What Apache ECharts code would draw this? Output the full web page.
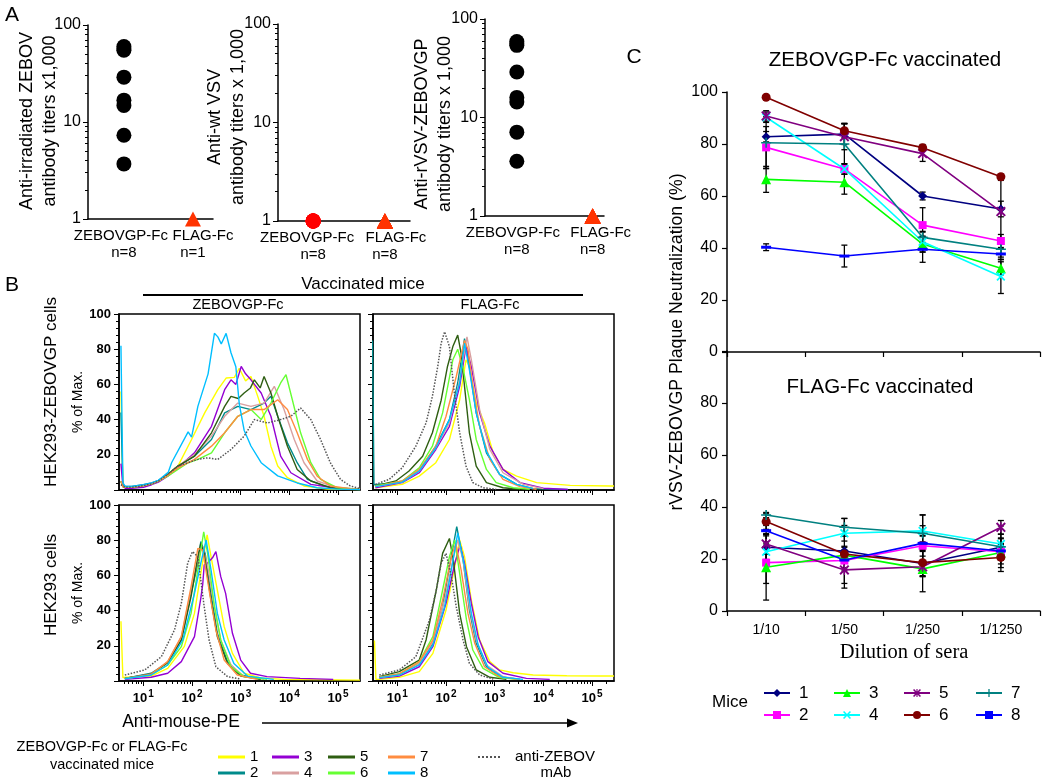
<!DOCTYPE html>
<html><head><meta charset="utf-8">
<script src="https://cdn.jsdelivr.net/npm/echarts@6/dist/echarts.min.js"></script>
<style>html,body{margin:0;padding:0;background:#fff}#c{width:1050px;height:784px}</style>
</head><body><div id="c"></div>
<script>
const FONT = 'Liberation Sans, Arial, sans-serif';
const SERIF = 'Liberation Serif, Times New Roman, serif';

// ---------------- Panel A data ----------------
const groupNames = ['ZEBOVGP-Fc', 'FLAG-Fc'];
const nZebov = ['n=8', 'n=1'];
const nVsv = ['n=8', 'n=8'];
const nRvsv = ['n=8', 'n=8'];
const zebovTitersZ = [60, 57, 55, 29, 16.8, 14.8, 7.3, 3.7];
const zebovTitersF = [1];
const vsvTitersZ = [1, 1, 1, 1, 1, 1, 1, 1];
const vsvTitersF = [1, 1, 1, 1, 1, 1, 1, 1];
const rvsvTitersZ = [59, 56, 54, 29, 16, 14.4, 7.1, 3.6];
const rvsvTitersF = [1, 1, 1, 1, 1, 1, 1, 1];
const logMinorTicksA = [2, 3, 4, 5, 6, 7, 8, 9, 20, 30, 40, 50, 60, 70, 80, 90];

// ---------------- Panel B data (x = log10 fluorescence, y = % of max) ----------------
const decadeExponents = [1, 2, 3, 4, 5];
const histNames = ['1', '2', '3', '4', '5', '6', '7', '8', 'anti-ZEBOV mAb'];
const histTL = [
 [[0.54,56],[0.58,3],[0.63,1.5],[0.76,1.5],[1.0,2.5],[1.17,3.5],[1.31,5],[1.51,9],[1.71,13.6],[1.99,28.7],[2.26,43.8],[2.53,57],[2.7,63.6],[2.87,64],[2.97,69.2],[3.1,62],[3.21,64.5],[3.35,53.2],[3.48,41.9],[3.62,24.9],[3.76,13.6],[3.96,7],[4.3,2.3],[4.78,0.5],[5.45,0.3]],
 [[0.54,44],[0.58,3],[0.63,2],[0.76,2],[1.0,3],[1.17,4],[1.31,5.5],[1.51,9],[1.71,13.6],[2.05,19.2],[2.4,28.7],[2.67,43.8],[2.94,47.5],[3.21,45.7],[3.48,49.4],[3.62,53.2],[3.76,41.9],[3.96,26.8],[4.16,15.5],[4.37,6],[4.71,2.3],[5.12,0.8],[5.45,0.3]],
 [[0.54,15],[0.58,2],[0.63,1],[0.76,1],[1.0,1.5],[1.17,3],[1.31,4.5],[1.51,8],[1.71,12.6],[2.05,21.1],[2.4,36.2],[2.67,57],[2.8,62.6],[2.9,60],[3.01,70.2],[3.1,66],[3.21,62.6],[3.42,55.1],[3.62,41.9],[3.82,19.2],[4.03,9.8],[4.44,3.2],[4.98,1],[5.45,0.5]],
 [[0.54,5],[0.58,2],[0.63,1.5],[0.76,1.5],[1.0,2.5],[1.17,3.5],[1.31,5],[1.51,9],[1.71,13.6],[2.05,20.2],[2.4,30.6],[2.67,41.9],[2.94,49.4],[3.21,47.5],[3.48,49.4],[3.69,58.9],[3.89,45.7],[4.1,28.7],[4.3,15.5],[4.57,5.1],[4.98,1.3],[5.45,0.4]],
 [[0.54,5],[0.58,2],[0.63,1.5],[0.76,1.5],[1.0,2.5],[1.17,3.5],[1.31,5],[1.51,9],[1.71,13.6],[2.05,19.2],[2.4,32.5],[2.67,47.5],[2.8,53.2],[2.95,52],[3.07,55.1],[3.2,58],[3.28,62.6],[3.4,58],[3.48,64.5],[3.62,55.1],[3.76,41.9],[3.96,24.9],[4.16,11.7],[4.44,5.1],[4.84,1.3],[5.45,0.3]],
 [[0.54,5],[0.58,2],[0.63,1.5],[0.76,1.5],[1.0,2.5],[1.17,3.5],[1.31,5],[1.51,8],[1.71,11.7],[1.92,15.5],[2.12,17.4],[2.4,21.1],[2.67,32.5],[2.94,41.9],[3.21,45.7],[3.42,40],[3.62,49.4],[3.82,60.8],[3.93,65.5],[4.06,51.3],[4.23,32.5],[4.44,15.5],[4.64,6],[4.98,1.3],[5.45,0.4]],
 [[0.54,5],[0.58,2],[0.63,1.5],[0.76,1.5],[1.0,2.5],[1.17,3.5],[1.31,5],[1.51,8.5],[1.71,12.6],[2.05,17.4],[2.4,24.9],[2.67,32.5],[2.94,41.9],[3.21,45.7],[3.48,45.7],[3.76,51.3],[3.96,45.7],[4.16,32.5],[4.37,17.4],[4.57,7.9],[4.84,2.3],[5.25,0.8],[5.45,0.4]],
 [[0.54,82],[0.58,4],[0.63,2],[0.76,2],[1.0,3],[1.17,4],[1.31,5.5],[1.51,10],[1.58,15.5],[1.92,33],[1.99,30],[2.12,47.5],[2.33,66],[2.46,89],[2.53,87],[2.6,83],[2.7,89],[2.8,78],[2.9,70],[2.97,49],[3.07,34],[3.21,25],[3.42,15.5],[3.76,8],[4.16,4],[4.57,1.3],[4.98,0.5],[5.45,0.3]],
 [[0.54,3],[0.63,1.5],[0.76,1.5],[1.0,2.5],[1.17,3.5],[1.31,5],[1.51,9],[1.71,13.6],[2.12,17.4],[2.33,18.3],[2.53,17.4],[2.8,23],[3.07,30.6],[3.28,40],[3.55,38.1],[3.82,40],[4.03,41.9],[4.23,46.6],[4.44,40],[4.64,28.7],[4.84,15.5],[5.05,6],[5.25,2.3],[5.45,0.8]]
];
const histTR = [
 [[0.55,1.3],[1.1,3.2],[1.45,7.9],[1.79,15.5],[2.07,28.7],[2.28,51.3],[2.41,74],[2.48,70.2],[2.62,49.4],[2.79,38.1],[2.97,21.1],[3.17,11.7],[3.45,7.9],[3.86,4.2],[4.55,2.6],[5.38,2.3],[5.45,2.3]],
 [[0.49,85],[0.52,3],[0.55,1.9],[1.1,4.5],[1.45,10.8],[1.79,24.9],[2.07,40],[2.24,60.8],[2.38,86],[2.48,70.2],[2.62,43.8],[2.83,21.1],[3.1,8.9],[3.45,3.2],[3.79,0.8],[4.5,0.3]],
 [[0.55,1.3],[1.1,4.2],[1.45,9.8],[1.79,23],[2.07,36.2],[2.28,58.9],[2.41,81.5],[2.52,70.2],[2.69,43.8],[2.9,24.9],[3.17,11.7],[3.52,4.2],[4.0,1],[4.5,0.3]],
 [[0.55,1.9],[1.1,4.5],[1.45,10.8],[1.79,24],[2.07,38.1],[2.28,62.6],[2.43,87],[2.52,74],[2.69,45.7],[2.9,23],[3.17,9.8],[3.59,3.2],[4.0,0.8]],
 [[0.55,2.3],[0.97,5.1],[1.24,10.8],[1.52,19.2],[1.72,32.5],[1.9,51],[2.03,70.2],[2.14,81.5],[2.24,88],[2.31,77.7],[2.38,58.9],[2.48,32.5],[2.62,13.6],[2.83,4.2],[3.17,1.3],[3.52,0.4]],
 [[0.55,2.3],[1.1,5.1],[1.45,12.6],[1.72,24.9],[1.93,43.8],[2.14,74],[2.24,80],[2.34,70.2],[2.48,51.3],[2.62,28.7],[2.83,11.7],[3.03,4.2],[3.38,1.3],[3.72,0.4]],
 [[0.55,1.9],[1.1,5.1],[1.45,11.7],[1.79,24.9],[2.0,41.9],[2.21,64.5],[2.38,85],[2.45,80],[2.55,58.9],[2.69,36.2],[2.9,17.4],[3.17,6],[3.52,1.9],[3.86,0.4]],
 [[0.55,1.9],[1.1,4.5],[1.45,10.8],[1.79,24],[2.07,40],[2.28,60.8],[2.38,83.4],[2.48,68.3],[2.62,43.8],[2.83,22],[3.1,8.9],[3.45,3.2],[3.79,0.8]],
 [[0.55,3.2],[0.83,6],[1.1,12.6],[1.38,24.9],[1.59,38.1],[1.72,53.2],[1.83,70.2],[1.9,83.4],[1.97,89.9],[2.01,91],[2.07,81.5],[2.17,55.1],[2.28,32.5],[2.41,13.6],[2.55,4.2],[2.76,1.3],[3.03,0.4]]
];
const histBL = [
 [[0.54,34],[0.58,2],[0.62,1.3],[1.16,2.8],[1.5,7.2],[1.84,19.5],[2.05,38.4],[2.18,61.2],[2.31,83],[2.39,70.6],[2.52,51.7],[2.66,31],[2.83,15.7],[3.07,4.4],[3.41,1.7],[3.88,0.9],[5.45,0.5]],
 [[0.62,1.5],[1.16,4.4],[1.5,10.4],[1.78,23.3],[1.95,46],[2.12,66.9],[2.18,79.2],[2.27,72.5],[2.39,49.8],[2.52,27.1],[2.73,11],[3.0,3.4],[3.41,1.1]],
 [[0.62,0.9],[1.16,2.1],[1.5,4.4],[1.78,11],[2.05,25.2],[2.18,47],[2.22,55],[2.25,66],[2.32,67],[2.42,70],[2.49,73.5],[2.59,59.3],[2.69,49.8],[2.83,27.1],[3.0,11.9],[3.2,4.4],[3.54,2.5],[4.22,1.5],[4.9,0.9]],
 [[0.62,1.5],[1.16,4],[1.5,11],[1.78,25.2],[1.98,51.7],[2.15,72.5],[2.22,76.3],[2.32,65],[2.46,42.2],[2.59,23.3],[2.8,9.1],[3.07,2.5],[3.48,0.9]],
 [[0.62,1.5],[1.16,4],[1.5,10.4],[1.78,23.3],[1.98,47.9],[2.12,70.6],[2.18,78.2],[2.25,72.5],[2.39,46],[2.52,25.2],[2.73,10],[3.0,2.8],[3.41,0.9]],
 [[0.62,1.5],[1.16,3.4],[1.5,9.1],[1.78,19.5],[1.98,38.4],[2.12,63.1],[2.24,84.8],[2.32,72.5],[2.46,42.2],[2.59,23.3],[2.8,8.1],[3.07,2.5],[3.54,0.9]],
 [[0.62,1.3],[1.16,3.8],[1.5,11],[1.78,25.2],[1.98,53.6],[2.12,75.4],[2.22,74.4],[2.35,51.7],[2.49,29],[2.66,11.9],[2.93,3.4],[3.34,0.9]],
 [[0.62,1.3],[1.16,3.4],[1.5,9.1],[1.81,23.3],[2.05,49.8],[2.18,66.9],[2.29,80.1],[2.39,63.1],[2.52,38.4],[2.66,23.3],[2.86,10],[3.14,2.8],[3.68,0.9]],
 [[0.62,3.4],[1.03,6.3],[1.37,13.8],[1.64,29],[1.78,44.1],[1.91,66.9],[2.01,73.5],[2.12,70.6],[2.18,57.4],[2.25,42.2],[2.35,23.3],[2.49,8.1],[2.73,2.5],[3.0,1.1]]
];
const histBR = [
 [[0.53,23],[0.56,1],[0.63,0.9],[1.04,2.1],[1.45,5.3],[1.73,15.7],[2.0,40.3],[2.18,65],[2.28,80.1],[2.38,70.6],[2.52,46],[2.69,23.3],[2.9,11],[3.1,6.3],[3.38,4.7],[3.79,3.4],[4.48,3],[5.17,2.8],[5.45,2.8]],
 [[0.63,2.1],[1.04,3.8],[1.45,10],[1.73,21.4],[1.93,42.2],[2.07,65],[2.22,87.7],[2.35,68.8],[2.48,40.3],[2.62,21.4],[2.83,8.1],[3.1,2.5],[3.52,0.9]],
 [[0.63,1.5],[1.04,2.8],[1.45,8.1],[1.73,19.5],[2.0,44.1],[2.18,66.9],[2.29,77.2],[2.38,66.9],[2.52,44.1],[2.66,25.2],[2.86,11],[3.17,4.4],[3.65,1.5],[4.13,0.9]],
 [[0.63,1.9],[1.04,3.4],[1.45,10],[1.73,22.3],[1.97,46],[2.14,68.8],[2.24,80.1],[2.35,68.8],[2.48,42.2],[2.62,23.3],[2.83,9.1],[3.17,2.5],[3.52,0.9]],
 [[0.63,2.5],[1.04,5.3],[1.45,11.9],[1.59,23.3],[1.8,51.7],[1.93,72.5],[2.07,81],[2.15,68.8],[2.28,38.4],[2.42,19.5],[2.62,6.3],[2.9,2.1],[3.24,0.9]],
 [[0.63,2.1],[1.04,4],[1.45,11],[1.73,25.2],[1.93,51.7],[2.07,70.6],[2.18,80.1],[2.28,61.2],[2.42,34.7],[2.55,17.6],[2.76,7.2],[3.1,1.9],[3.45,0.9]],
 [[0.63,2.1],[1.04,4],[1.45,11],[1.73,23.3],[1.93,46],[2.11,70.6],[2.2,78.2],[2.31,63.1],[2.45,38.4],[2.59,21.4],[2.79,8.1],[3.1,2.5],[3.45,0.9]],
 [[0.63,1.9],[1.04,3.4],[1.45,9.1],[1.73,20.4],[1.97,42.2],[2.11,63.1],[2.24,84],[2.38,65],[2.52,38.4],[2.66,20.4],[2.86,7.8],[3.17,2.1],[3.58,0.9]],
 [[0.63,3.4],[1.04,6.3],[1.38,13.8],[1.66,34.7],[1.8,51.7],[1.9,66.9],[2.0,72.5],[2.11,59.3],[2.21,42.2],[2.35,23.3],[2.48,10],[2.69,3.4],[2.97,1.1]]
];

// ---------------- Panel C data ----------------
const dilutions = ['1/10', '1/50', '1/250', '1/1250'];
const miceNames = ['Mouse 1','Mouse 2','Mouse 3','Mouse 4','Mouse 5','Mouse 6','Mouse 7','Mouse 8'];
const zebNeut = [
 [82.8, 83.8, 60.0, 55.0],
 [78.7, 70.4, 48.8, 42.7],
 [66.4, 65.3, 41.5, 32.2],
 [90.3, 70.4, 42.4, 29.0],
 [90.8, 82.8, 76.3, 54.0],
 [98.0, 85.1, 78.6, 67.4],
 [80.5, 80.0, 44.1, 39.5],
 [40.3, 36.9, 39.5, 37.7]
];
const zebErr = [
 [2, 4, 1.5, 3],
 [8, 2, 6.7, 2.5],
 [5, 4.6, 3, 2.5],
 [2, 2, 4, 6.5],
 [2, 5, 3, 12],
 [0.5, 2.7, 1.2, 1],
 [10, 8, 2, 3],
 [1.3, 4.2, 5, 2]
];
const flagNeut = [
 [24.5, 23.1, 18.3, 24.5],
 [18.6, 19.4, 25.1, 22.8],
 [16.8, 21.5, 16.2, 22.5],
 [22.8, 29.9, 30.8, 25.8],
 [25.8, 15.8, 17.0, 32.2],
 [34.4, 21.9, 18.6, 20.6],
 [36.9, 32.2, 29.9, 24.7],
 [30.9, 19.6, 26.0, 23.1]
];
const flagErr = [
 [5, 12.5, 5, 5],
 [8, 4, 4, 3],
 [12.6, 3, 3, 3],
 [3, 3, 2, 2],
 [4, 7, 9.6, 2.6],
 [3, 3, 5, 5.4],
 [1, 3.4, 7, 8],
 [2, 3, 11, 5]
];

// ---------------- styles ----------------
const histColors = ['#ffff00','#008b8b','#9400d3','#d9a0a0','#2e5e12','#66ff33','#ff8c40','#00bfff','#555555'];
const miceColors = ['#000080','#ff00ff','#00ff00','#00ffff','#800080','#800000','#008080','#0000ff'];
const SYM_X = 'path://M0,1.4L1.4,0L5,3.6L8.6,0L10,1.4L6.4,5L10,8.6L8.6,10L5,6.4L1.4,10L0,8.6L3.6,5Z';
const SYM_STAR = 'path://M0,1.4L1.4,0L5,3.6L8.6,0L10,1.4L6.4,5L10,8.6L8.6,10L5,6.4L1.4,10L0,8.6L3.6,5Z M4.3,0L5.7,0L5.7,10L4.3,10Z';
const SYM_PLUS = 'path://M4.2,0H5.8V4.2H10V5.8H5.8V10H4.2V5.8H0V4.2H4.2Z';
const SYM_DASH = 'path://M0,0H10V3H0Z';
const ICON_LINE = 'path://M0,0H27V3H0Z';
const ICON_DOTS = 'path://M0,0H2V2H0Z M4,0H6V2H4Z M8,0H10V2H8Z M12,0H14V2H12Z M16,0H18V2H16Z M20,0H22V2H20Z';
const miceSymbols = ['diamond','rect','triangle',SYM_X,SYM_STAR,'circle',SYM_PLUS,SYM_DASH];
const miceSymbolSizes = [9, 8, 10, 9, 10, 9, 10, [10, 3]];

const BLACK = '#000';
const grid = [], xAxis = [], yAxis = [], series = [], legend = [], graphic = [];
function addGrid(g) { grid.push(Object.assign({outerBoundsMode: 'none', containLabel: false}, g)); return grid.length - 1; }
function addX(a) { xAxis.push(a); return xAxis.length - 1; }
function addY(a) { yAxis.push(a); return yAxis.length - 1; }

// ---------- Panel A ----------  (group position 1 = ZEBOVGP-Fc, 2 = FLAG-Fc)
// shift: horizontal nudge (px) of the group-name line, as printed in the original figure
function groupLabelAxis(gi, xmin, xmax, nLabels, pos, withLine, shift) {
  const pad = shift >= 0 ? [0, 0, 0, 2 * shift] : [0, -2 * shift, 0, 0];
  return addX({type:'value', gridIndex:gi, min:xmin, max:xmax, position:'bottom',
    axisLine:{show:withLine, onZero:false, lineStyle:{color:BLACK, width:1.5}}, axisTick:{show:false}, splitLine:{show:false},
    axisLabel:{customValues:[pos], showMinLabel:true, showMaxLabel:true, margin:8,
      formatter: v => '{g|' + groupNames[Math.round(v) - 1] + '}\n{n|' + nLabels[Math.round(v) - 1] + '}',
      rich:{g:{fontSize:15, lineHeight:17, color:BLACK, fontFamily:FONT, padding:pad}, n:{fontSize:15, lineHeight:17, color:BLACK, fontFamily:FONT}}}});
}
function panelA(box, xmin, xmax, nLabels, zVals, fVals, zColor, shifts) {
  const gi = addGrid(box);
  const xi = groupLabelAxis(gi, xmin, xmax, nLabels, 1, true, shifts[0]);
  groupLabelAxis(gi, xmin, xmax, nLabels, 2, false, shifts[1]);
  const yi = addY({type:'log', logBase:10, gridIndex:gi, min:1, max:100, position:'left',
    axisLine:{show:true, onZero:false, lineStyle:{color:BLACK, width:1.5}}, axisTick:{show:true, length:5, lineStyle:{color:BLACK}},
    splitLine:{show:false}, minorTick:{show:false}, axisLabel:{fontSize:16, color:BLACK, margin:7}});
  addY({type:'log', logBase:10, gridIndex:gi, min:1, max:100, position:'left', axisLine:{show:false, onZero:false},
    axisLabel:{show:false}, splitLine:{show:false}, axisTick:{show:true, length:3, customValues: logMinorTicksA, lineStyle:{color:BLACK}}});
  series.push({type:'scatter', xAxisIndex:xi, yAxisIndex:yi, data: zVals.map(v => [1, v]), symbol:'circle', symbolSize:15, itemStyle:{color:zColor, opacity:1}, clip:false, silent:true});
  series.push({type:'scatter', xAxisIndex:xi, yAxisIndex:yi, data: fVals.map(v => [2, v]), symbol:'triangle', symbolSize:[16,15], itemStyle:{color:'#ff3300', opacity:1}, clip:false, silent:true});
}
panelA({left:88, top:25, width:125, height:194}, 0.48, 2.29, nZebov, zebovTitersZ, zebovTitersF, BLACK, [-3, 10]);
panelA({left:278, top:24, width:132, height:197}, 0.51, 2.35, nVsv, vsvTitersZ, vsvTitersF, '#ff0000', [-6, 11]);
panelA({left:485, top:19, width:119, height:197}, 0.58, 2.15, nRvsv, rvsvTitersZ, rvsvTitersF, BLACK, [-4, 8]);

// ---------- Panel B ----------
const flowMinorTicks = [];
for (let d = 0; d <= 5; d++) for (let k = 2; k <= 9; k++) { const e = d + Math.log10(k); if (e > 0.5 && e < 5.45) flowMinorTicks.push(e); }
const bBoxes = [
  {left:119, top:314, width:241, height:176},
  {left:373, top:314, width:241, height:176},
  {left:119, top:505, width:241, height:176},
  {left:373, top:505, width:241, height:176}
];
const histPanels = [histTL, histTR, histBL, histBR];
bBoxes.forEach((box, p) => {
  const gi = addGrid(Object.assign({show:true, borderColor:BLACK, borderWidth:1.5, backgroundColor:'transparent'}, box));
  const isBottom = p >= 2, isLeft = p % 2 === 0;
  const xi = addX({type:'value', gridIndex:gi, min:0.5, max:5.45, position:'bottom',
    axisLine:{show:true, onZero:false, lineStyle:{color:BLACK, width:1.5}}, splitLine:{show:false},
    axisTick:{show:true, customValues: decadeExponents, length:5, lineStyle:{color:BLACK, width:1}},
    axisLabel: isBottom ? {show:true, customValues: decadeExponents, margin:8,
      formatter: v => '{b|10}{s|' + Math.round(v) + '}',
      rich:{b:{fontSize:13, fontWeight:'bold', color:BLACK, fontFamily:FONT}, s:{fontSize:10, fontWeight:'bold', color:BLACK, fontFamily:FONT, padding:[0,0,9,1]}}} : {show:false}});
  addX({type:'value', gridIndex:gi, min:0.5, max:5.45, position:'bottom', axisLine:{show:false, onZero:false},
    axisLabel:{show:false}, splitLine:{show:false}, axisTick:{show:true, customValues: flowMinorTicks, length:3, lineStyle:{color:BLACK, width:1}}});
  const yi = addY({type:'value', gridIndex:gi, min:0, max:100, interval:20, position:'left',
    axisLine:{show:true, onZero:false, lineStyle:{color:BLACK, width:1.5}},
    axisTick:{show:true, length:5, lineStyle:{color:BLACK}}, minorTick:{show:true, splitNumber:5, length:3, lineStyle:{color:BLACK}},
    splitLine:{show:false}, minorSplitLine:{show:false},
    axisLabel: isLeft ? {show:true, fontSize:13, fontWeight:'bold', color:BLACK, margin:8, formatter: v => v === 0 ? '' : String(v)} : {show:false},
    name: isLeft ? '% of Max.' : '', nameLocation:'middle', nameRotate:90, nameGap:33, nameTextStyle:{fontSize:14, color:BLACK}});
  histPanels[p].forEach((curve, i) => {
    series.push({type:'line', name: histNames[i], xAxisIndex:xi, yAxisIndex:yi, data: curve, symbol:'none',
      lineStyle:{color: histColors[i], width: i === 8 ? 1.5 : 1.4, type: i === 8 ? 'dotted' : 'solid'},
      itemStyle:{color: histColors[i]}, silent:true, z: i === 8 ? 3 : 2});
  });
});

// ---------- Panel C ----------
function errorSeries(xi, yi, means, errs) {
  const data = [];
  means.forEach((row, s) => row.forEach((m, k) => data.push([k, m - errs[s][k], m + errs[s][k]])));
  return {type:'custom', xAxisIndex:xi, yAxisIndex:yi, data, z:1, silent:true, clip:false,
    encode:{x:0, y:[1,2]},
    renderItem(params, api) {
      const x = api.value(0);
      const lo = api.coord([x, api.value(1)]);
      const hi = api.coord([x, api.value(2)]);
      const w = 3, st = {stroke:BLACK, lineWidth:1.3};
      return {type:'group', children:[
        {type:'line', shape:{x1:lo[0], y1:lo[1], x2:hi[0], y2:hi[1]}, style:st},
        {type:'line', shape:{x1:lo[0]-w, y1:lo[1], x2:lo[0]+w, y2:lo[1]}, style:st},
        {type:'line', shape:{x1:hi[0]-w, y1:hi[1], x2:hi[0]+w, y2:hi[1]}, style:st}
      ]};
    }};
}
function panelC(box, means, errs, showX, hideTop) {
  const gi = addGrid(box);
  const xi = addX({type:'category', gridIndex:gi, data:dilutions, boundaryGap:true, position:'bottom',
    axisLine:{show:true, onZero:false, lineStyle:{color:BLACK, width:1.5}},
    axisTick:{show:true, length:5, alignWithLabel:false, lineStyle:{color:BLACK, width:1.2}},
    axisLabel: showX ? {show:true, fontSize:14, color:BLACK, margin:12} : {show:false}, splitLine:{show:false}});
  const yi = addY({type:'value', gridIndex:gi, min:0, max:100, interval:20, position:'left',
    axisLine:{show:true, onZero:false, lineStyle:{color:BLACK, width:1.5}}, axisTick:{show:true, length:5, lineStyle:{color:BLACK, width:1.2}},
    splitLine:{show:false}, axisLabel:{fontSize:16, color:BLACK, margin:9, formatter: v => (hideTop && v === 100) ? '' : String(v)}});
  series.push(errorSeries(xi, yi, means, errs));
  means.forEach((row, s) => {
    series.push({type:'line', name: miceNames[s], xAxisIndex:xi, yAxisIndex:yi, data: row,
      symbol: miceSymbols[s], symbolSize: miceSymbolSizes[s], showSymbol:true,
      lineStyle:{color: miceColors[s], width:1.6}, itemStyle:{color: miceColors[s]}, z:3, silent:true});
  });
}
panelC({left:727, top:92, width:313, height:260}, zebNeut, zebErr, false, false);
panelC({left:727, top:351, width:313, height:260}, flagNeut, flagErr, true, true);

// ---------- legends ----------
[['1','2'],['3','4'],['5','6'],['7','8']].forEach((d, i) => legend.push({
  data:d.map(n => ({name:n, icon:ICON_LINE})), orient:'vertical', left:[218,272,328,388][i], top:749, padding:0,
  itemWidth:27, itemHeight:3, itemGap:0, selectedMode:false,
  textStyle:{fontSize:15, lineHeight:16, color:BLACK, fontFamily:FONT}}));
legend.push({data:[{name:'anti-ZEBOV mAb', icon:ICON_DOTS}], orient:'vertical', left:478, top:749, padding:0,
  itemWidth:22, itemHeight:2, itemGap:0, selectedMode:false, formatter: () => 'anti-ZEBOV',
  textStyle:{fontSize:15, lineHeight:16, color:BLACK, fontFamily:FONT, padding:[0,0,0,10]}});
[[0,1],[2,3],[4,5],[6,7]].forEach((d, i) => legend.push({
  data:d.map(k => miceNames[k]), orient:'vertical', left:[763,833,903,975][i], top:682, padding:0, itemWidth:26, itemHeight:10, itemGap:0,
  selectedMode:false, formatter: n => n.replace('Mouse ', ''), textStyle:{fontSize:17, lineHeight:22, color:BLACK, fontFamily:FONT, padding:[0,0,0,4]}}));

// ---------- text & decorations ----------
function txt(x, y, text, size, o) {
  o = o || {};
  return {type:'text', x, y, rotation: o.rot || 0, silent:true, z:10,
    style:{text, fontSize:size, fontFamily: o.family || FONT, fontWeight: o.weight || 'normal', fill:BLACK,
      align: o.align || 'center', verticalAlign:'middle', lineHeight: o.lh || Math.round(size * 1.2)}};
}
const R = Math.PI / 2;
graphic.push(
  txt(12, 15, 'A', 21), txt(12, 285, 'B', 21), txt(634, 57, 'C', 21),
  txt(38.5, 121, 'Anti-irradiated ZEBOV\nantibody titers x1,000', 18, {rot:R, lh:23}),
  txt(227, 117, 'Anti-wt VSV\nantibody titers x 1,000', 18, {rot:R, lh:23}),
  txt(433.5, 124, 'Anti-rVSV-ZEBOVGP\nantibody titers x 1,000', 18, {rot:R, lh:23}),
  txt(363, 284, 'Vaccinated mice', 17),
  {type:'line', silent:true, shape:{x1:143, y1:295, x2:583, y2:295}, style:{stroke:BLACK, lineWidth:2}},
  txt(238, 305, 'ZEBOVGP-Fc', 14.5), txt(490, 305, 'FLAG-Fc', 14.5),
  txt(51, 392, 'HEK293-ZEBOVGP cells', 17, {rot:R}), txt(51, 585, 'HEK293 cells', 17, {rot:R}),
  txt(181, 722, 'Anti-mouse-PE', 17.5),
  {type:'line', silent:true, shape:{x1:262, y1:723, x2:570, y2:723}, style:{stroke:BLACK, lineWidth:1.5}},
  {type:'polygon', silent:true, shape:{points:[[567,718.5],[578,723],[567,727.5]]}, style:{fill:BLACK}},
  txt(102, 747, 'ZEBOVGP-Fc or FLAG-Fc', 14.5), txt(102, 765, 'vaccinated mice', 14.5),
  txt(556, 773, 'mAb', 15),
  txt(885, 60, 'ZEBOVGP-Fc vaccinated', 20.5), txt(880, 387, 'FLAG-Fc vaccinated', 20.5),
  txt(677, 342, 'rVSV-ZEBOVGP Plaque Neutralization (%)', 17.7, {rot:R}),
  txt(904, 653, 'Dilution of sera', 20.5, {family:SERIF}),
  txt(730, 702, 'Mice', 17)
);

const chart = echarts.init(document.getElementById('c'), null, {renderer:'canvas'});
chart.setOption({
  animation:false, backgroundColor:'#fff',
  textStyle:{fontFamily:FONT, color:BLACK},
  grid, xAxis, yAxis, series, legend, graphic, tooltip:{show:false}
});
</script>
</body></html>
